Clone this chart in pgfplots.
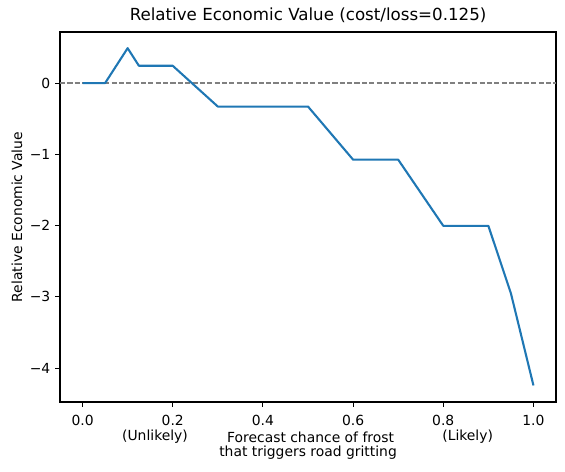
\documentclass[border=0pt]{standalone}
\usepackage{fontspec}
\setmainfont{DejaVu Sans}
\usepackage{pgfplots}
\pgfplotsset{compat=1.18}
\definecolor{mplblue}{HTML}{1F77B4}
\begin{document}
\begin{tikzpicture}
\begin{axis}[
  at={(0,0)}, anchor=south west,
  scale only axis,
  width=357.1pt, height=266.4pt,
  xmin=-0.05, xmax=1.05,
  ymin=-4.475, ymax=0.717,
  xtick={0,0.2,0.4,0.6,0.8,1.0},
  xticklabels={0.0,0.2,0.4,0.6,0.8,1.0},
  ytick={-4,-3,-2,-1,0},
  yticklabels={−4,−3,−2,−1,0},
  tick align=outside,
  major tick length=3.5pt,
  every tick/.style={black, line width=0.8pt},
  axis line style={line width=0.8pt},
  tick label style={font=\fontsize{10}{12}\selectfont},
  xticklabel style={yshift=-2.5pt},
  xtick pos=bottom, ytick pos=left,
  clip=true,
]
\addplot[gray, line width=1pt, dash pattern=on 3.7pt off 1.6pt, forget plot] coordinates {(-0.05,0) (1.05,0)};
\addplot[mplblue, line width=1.5pt, line join=round] coordinates {
(0.0,0.0)
(0.05,0.0)
(0.1,0.49)
(0.125,0.243)
(0.2,0.243)
(0.3,-0.329)
(0.5,-0.329)
(0.6,-1.074)
(0.7,-1.074)
(0.8,-2.003)
(0.9,-2.003)
(0.95,-2.95)
(1.0,-4.243)
};
\end{axis}
\node[font=\fontsize{12}{14}\selectfont] at (178.6pt,278.6pt) {Relative Economic Value (cost/loss=0.125)};
\node[font=\fontsize{10}{12}\selectfont, rotate=90] at (-31pt,133.2pt) {Relative Economic Value};
\node[font=\fontsize{10}{12}\selectfont] at (68.4pt,-25.2pt) {(Unlikely)};
\node[font=\fontsize{10}{12}\selectfont] at (180.4pt,-25.2pt) {Forecast chance of frost};
\node[font=\fontsize{10}{12}\selectfont] at (293.5pt,-25.2pt) {(Likely)};
\node[font=\fontsize{10}{12}\selectfont] at (178.6pt,-36.7pt) {that triggers road gritting};
\pgfresetboundingbox
\path[use as bounding box] (-43.2pt,-49.68pt) rectangle (363.58pt,289.44pt);
\end{tikzpicture}
\end{document}
